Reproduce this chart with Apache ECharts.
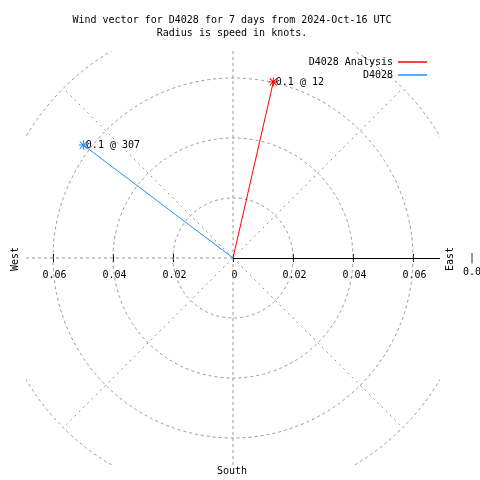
<!DOCTYPE html>
<html>
<head>
<meta charset="utf-8">
<script src="https://cdn.jsdelivr.net/npm/echarts@6/dist/echarts.min.js"></script>
<style>
html,body{margin:0;padding:0;background:#fff;}
#chart{width:480px;height:480px;}
</style>
</head>
<body>
<div id="chart"></div>
<script>
// ---- data ----
const titleText = 'Wind vector for D4028 for 7 days from 2024-Oct-16 UTC\nRadius is speed in knots.';
const seriesNames = ['D4028 Analysis', 'D4028'];
const directions = [12.9, 307.05];      // degrees, clockwise from north
const speeds = [0.0602, 0.0625];        // knots
const vectorLabels = ['0.1 @ 12', '0.1 @ 307'];
const tickValues = [-0.06, -0.04, -0.02, 0, 0.02, 0.04, 0.06];
const ringRadii = [0.02, 0.04, 0.06, 0.08];
const spokeBearings = [0, 45, 90, 135, 180, 225, 270, 315];
const spokeLength = 0.08;
const axisMax = 0.069;

const FONT = '"DejaVu Sans Mono", "Liberation Mono", monospace';
const colors = ['#ff0000', '#1e90ff'];
const rad = d => d * Math.PI / 180;

const asterisk = 'path://M4,0 L5,0 L5,9 L4,9 Z M0,4 L9,4 L9,5 L0,5 Z M0.6,1.3 L1.3,0.6 L8.4,7.7 L7.7,8.4 Z M7.7,0.6 L8.4,1.3 L1.3,8.4 L0.6,7.7 Z';

const GRID = { left: 26, top: 51, width: 414, height: 414 };
const HALF = GRID.height / 2;

const chart = echarts.init(document.getElementById('chart'));

const vectorSeries = seriesNames.map((name, i) => {
  const u = speeds[i] * Math.sin(rad(directions[i]));
  const v = speeds[i] * Math.cos(rad(directions[i]));
  return {
    name: name,
    type: 'line',
    xAxisIndex: 0, yAxisIndex: 0,
    z: 5,
    animation: false,
    color: colors[i],
    lineStyle: { color: colors[i], width: 1 },
    data: [
      { value: [0, 0], symbol: 'none' },
      { value: [u, v], symbol: asterisk, symbolSize: 9,
        label: { show: true, position: 'right', distance: -2, formatter: vectorLabels[i],
          color: '#000', fontFamily: FONT, fontSize: 10 } }
    ],
    itemStyle: { color: colors[i] },
    emphasis: { disabled: true }
  };
});

const option = {
  backgroundColor: '#fff',
  animation: false,
  title: {
    text: titleText,
    left: 232, top: 14, padding: 0,
    textAlign: 'center',
    textStyle: { fontFamily: FONT, fontSize: 10, fontWeight: 'normal', color: '#000', lineHeight: 13 }
  },
  legend: {
    data: seriesNames,
    orient: 'vertical',
    right: 53, top: 57, padding: 0,
    align: 'right',
    icon: 'rect',
    itemWidth: 29, itemHeight: 1.5, itemGap: 3,
    textStyle: { fontFamily: FONT, fontSize: 10, color: '#000' }
  },
  grid: GRID,
  xAxis: [
    {
      type: 'value', min: -axisMax, max: axisMax, position: 'bottom', offset: -HALF,
      axisLine: { show: false, onZero: false },
      splitLine: { show: false },
      axisTick: { show: true, customValues: tickValues, length: 4, lineStyle: { color: '#000' } },
      axisLabel: { customValues: tickValues, margin: 12, padding: [0, 0, 0, 3],
        fontFamily: FONT, fontSize: 10, color: '#000',
        formatter: v => (Math.abs(v) < 1e-9 ? '0' : Math.abs(v).toFixed(2)) }
    },
    {
      type: 'value', min: -axisMax, max: axisMax, position: 'top', offset: -HALF,
      axisLine: { show: false, onZero: false },
      splitLine: { show: false },
      axisTick: { show: true, customValues: tickValues, length: 4, lineStyle: { color: '#000' } },
      axisLabel: { show: false }
    }
  ],
  yAxis: { type: 'value', min: -axisMax, max: axisMax, show: false },
  graphic: [
    { type: 'text', x: 15, y: 259, rotation: Math.PI / 2,
      style: { text: 'West', align: 'center', verticalAlign: 'middle', font: '10px ' + FONT, fill: '#000' } },
    { type: 'text', x: 450, y: 259, rotation: Math.PI / 2,
      style: { text: 'East', align: 'center', verticalAlign: 'middle', font: '10px ' + FONT, fill: '#000' } },
    { type: 'text', x: 232, y: 471,
      style: { text: 'South', align: 'center', verticalAlign: 'middle', font: '10px ' + FONT, fill: '#000' } },
    { type: 'text', x: 472, y: 258,
      style: { text: '|', align: 'center', verticalAlign: 'middle', font: '10px ' + FONT, fill: '#000' } },
    { type: 'text', x: 463, y: 272,
      style: { text: '0.0', align: 'left', verticalAlign: 'middle', font: '10px ' + FONT, fill: '#000' } }
  ],
  series: [
    {
      type: 'custom', clip: true, silent: true, z: 1,
      xAxisIndex: 0, yAxisIndex: 0,
      data: ringRadii.map(r => [r, 0]),
      renderItem: function (params, api) {
        const r = api.value(0);
        const c = api.coord([0, 0]);
        const s = api.size([r, r]);
        return { type: 'circle', shape: { cx: c[0], cy: c[1], r: s[0] },
          style: { fill: 'none', stroke: '#999', lineWidth: 1, lineDash: [3, 3] } };
      }
    },
    {
      type: 'custom', clip: true, silent: true, z: 2,
      xAxisIndex: 0, yAxisIndex: 0,
      data: spokeBearings.map(b => [b, 0]),
      renderItem: function (params, api) {
        const b = api.value(0);
        const c = api.coord([0, 0]);
        const e = api.coord([spokeLength * Math.sin(rad(b)), spokeLength * Math.cos(rad(b))]);
        const isEast = b === 90;
        const isCardinal = b % 90 === 0;
        const shape = { x1: c[0], y1: c[1], x2: e[0], y2: e[1] };
        if (isEast) { shape.y1 = Math.round(c[1]) + 0.5; shape.y2 = shape.y1; }
        return { type: 'line', shape: shape,
          z2: isEast ? 10 : 0,
          style: isEast ? { stroke: '#000', lineWidth: 1 }
            : { stroke: '#999', lineWidth: 1, lineDash: isCardinal ? [3, 3] : [2, 4] } };
      }
    }
  ].concat(vectorSeries)
};

chart.setOption(option);
</script>
</body>
</html>
